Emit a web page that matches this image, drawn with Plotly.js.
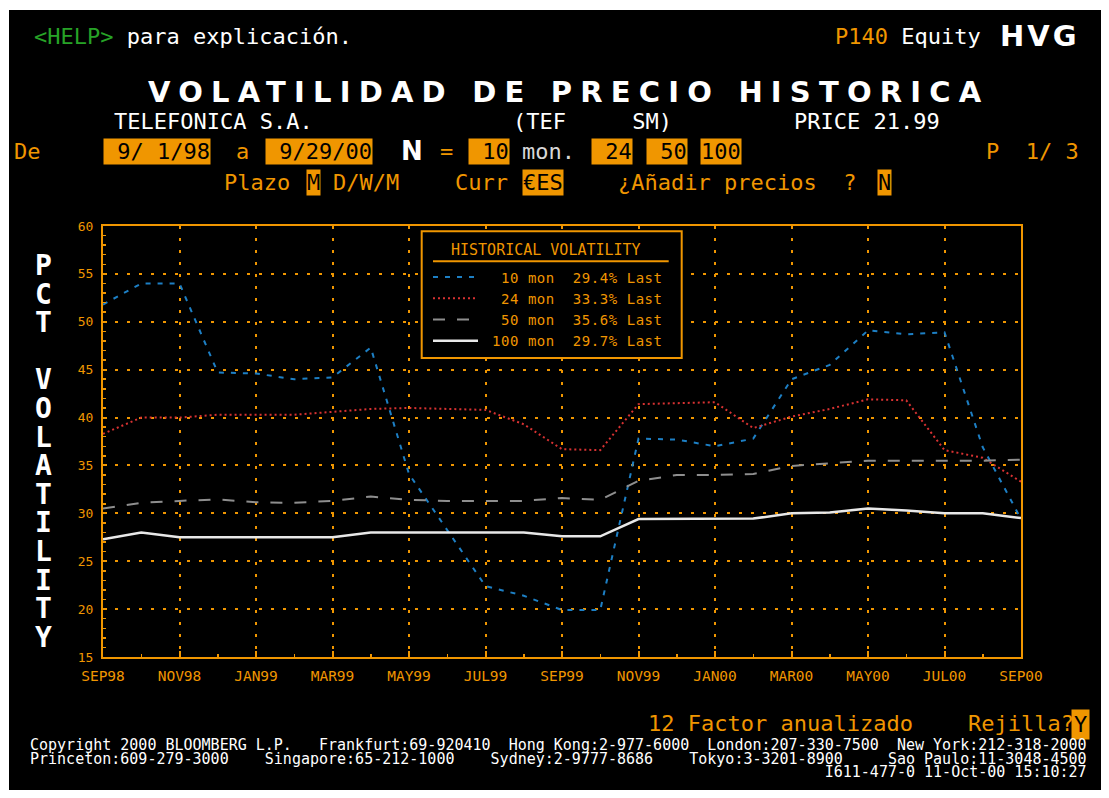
<!DOCTYPE html>
<html>
<head>
<meta charset="utf-8">
<script src="https://cdn.plot.ly/plotly-3.0.1.min.js"></script>
<style>
  html, body { margin:0; padding:0; background:#ffffff; }
  #chart { position:absolute; left:9px; top:10px; width:1092px; height:780px; }
</style>
</head>
<body>
<div id="chart"></div>
<script>
// ---------------- data ----------------
const MONTHS = ['SEP98','OCT98','NOV98','DEC98','JAN99','FEB99','MAR99','APR99','MAY99','JUN99','JUL99','AUG99',
                'SEP99','OCT99','NOV99','DEC99','JAN00','FEB00','MAR00','APR00','MAY00','JUN00','JUL00','AUG00','SEP00'];
const VOL_10  = [51.8, 54.0, 54.0, 44.7, 44.6, 44.0, 44.2, 47.3, 34.1, 28.3, 22.4, 21.4, 19.9, 19.9, 37.8, 37.7, 37.0, 37.8, 44.0, 45.5, 49.1, 48.7, 48.9, 36.9, 29.4];
const VOL_24  = [38.3, 40.0, 40.0, 40.3, 40.3, 40.3, 40.6, 40.9, 41.0, 40.9, 40.8, 39.3, 36.7, 36.6, 41.4, 41.5, 41.6, 38.9, 40.1, 40.9, 41.9, 41.8, 36.6, 35.8, 33.3];
const VOL_50  = [30.5, 31.1, 31.3, 31.45, 31.15, 31.1, 31.3, 31.75, 31.4, 31.3, 31.3, 31.3, 31.6, 31.4, 33.4, 34.0, 34.0, 34.1, 34.95, 35.2, 35.5, 35.5, 35.5, 35.5, 35.6];
const VOL_100 = [27.3, 28.0, 27.5, 27.5, 27.5, 27.5, 27.5, 28.0, 28.0, 28.0, 28.0, 28.0, 27.6, 27.6, 29.4, 29.4, 29.4, 29.45, 30.0, 30.1, 30.5, 30.3, 30.0, 30.0, 29.5];
const SERIES_NAMES = ['10 mon', '24 mon', '50 mon', '100 mon'];
const LAST_VALUES  = ['29.4%', '33.3%', '35.6%', '29.7%'];
const Y_TICKS = [15, 20, 25, 30, 35, 40, 45, 50, 55, 60];
const FOOTER = [
  'Copyright 2000 BLOOMBERG L.P.   Frankfurt:69-920410  Hong Kong:2-977-6000  London:207-330-7500  New York:212-318-2000',
  'Princeton:609-279-3000    Singapore:65-212-1000    Sydney:2-9777-8686    Tokyo:3-3201-8900     Sao Paulo:11-3048-4500',
  'I611-477-0 11-Oct-00 15:10:27'
];

// ---------------- style ----------------
const ORANGE = '#f09600';
const MONO = 'DejaVu Sans Mono, monospace';
const SANS = 'DejaVu Sans, sans-serif';
const NB = s => s.replace(/ /g, '\u00a0');

// plot area in page pixels
const PL = 103, PR = 1021, PT = 226, PB = 657;
const ax = x => (x - PL) / (PR - PL);
const ay = y => (PB - y) / (PB - PT);

const idx = MONTHS.map((_, i) => i);
const tickIdx = idx.filter(i => i % 2 === 0);

const styles = [
  {color:'#1d7fc4', width:2, dash:'5px,7px'},
  {color:'#d83232', width:2, dash:'2px,3px'},
  {color:'#8e8e8e', width:2, dash:'12px,12px'},
  {color:'#e8e8e8', width:2.5, dash:'solid'}
];
const seriesVals = [VOL_10, VOL_24, VOL_50, VOL_100];
const pad = n => n.length < 7 ? '\u00a0'.repeat(7 - n.length) : '';
const traces = seriesVals.map((v, k) => ({
  type:'scatter', mode:'lines', x: idx, y: v,
  name: '<span style="letter-spacing:0.55px">' +
        NB(' ' + pad(SERIES_NAMES[k]) + SERIES_NAMES[k] + '  ' + LAST_VALUES[k] + ' Last') + '</span>',
  line: styles[k], hoverinfo:'skip'
}));

// ---------------- annotations ----------------
const ann = [];
function txt(x, y, text, o) {
  o = o || {};
  ann.push({
    xref:'paper', yref:'paper', x: ax(x), y: ay(y), text: text, showarrow:false,
    xanchor: o.anchor || 'left', yanchor:'middle', align: o.align || 'center',
    borderpad: o.bp !== undefined ? o.bp : 0,
    bgcolor: o.bg || 'rgba(0,0,0,0)',
    font: {family: o.family || MONO, size: o.size || 22, color: o.color || ORANGE}
  });
}
function box(x, y, text, o) {
  o = o || {};
  txt(x, y, NB(text), Object.assign({bg: ORANGE, color:'#000000', bp: 0}, o));
}

// row 1
txt(33, 37, '<span style="color:#27a327">&lt;HELP&gt;</span>' + NB(' para explicación.'), {color:'#ffffff'});
txt(834, 37, 'P140' + NB(' ') + '<span style="color:#ffffff">Equity</span>');
txt(999, 36, '<b><span style="letter-spacing:3px">HVG</span></b>', {family: SANS, size:29, color:'#ffffff'});
// title
txt(568, 92, '<b><span style="letter-spacing:8.2px">VOLATILIDAD DE PRECIO HISTORICA</span></b>', {anchor:'center', family: SANS, size:29, color:'#ffffff'});
// row 3
txt(113, 122, 'TELEFONICA S.A.', {color:'#ffffff'});
txt(512, 122, NB('(TEF     SM)'), {color:'#ffffff'});
txt(793, 122, 'PRICE 21.99', {color:'#ffffff'});
// row 4
txt(13, 151, 'De');
box(102.5, 151, ' 9/ 1/98');
txt(235, 151, 'a');
box(265, 151, ' 9/29/00');
txt(400, 151, '<b>N</b>', {family: SANS, size:26, color:'#ffffff'});
txt(439, 151, '=');
box(468, 151, ' 10');
txt(521, 151, 'mon.', {color:'#d8d8d8'});
box(590.5, 151, ' 24');
box(645.7, 151, ' 50');
box(700, 151, '100');
txt(985, 151, NB('P  1/ 3'));
// row 5
txt(223, 182, 'Plazo');
box(306, 182, 'M');
txt(332, 182, 'D/W/M');
txt(454, 182, 'Curr');
box(522, 182, '€ES');
txt(617, 182, NB('¿Añadir precios  ?'));
box(877, 182, 'N');
// axis label: stacked letters in one text (line pitch from base size 22, glyphs at 28px)
const YLABEL = 'PCT VOLATILITY';
txt(43, 451, '<b>' + YLABEL.split('').map(ch =>
      '<span style="font-size:28px">' + (ch === ' ' ? '\u00a0' : ch) + '</span>').join('<br>') + '</b>',
    {anchor:'center', size:22, color:'#ffffff'});
// legend heading
txt(545.5, 249.7, 'HISTORICAL VOLATILITY', {anchor:'center', size:15});
// bottom
txt(647, 723, '12 Factor anualizado');
txt(967, 723, 'Rejilla?');
box(1071, 724, 'Y', {bp: 2});
txt(1088, 758.5, FOOTER.map(l => '<span style="font-size:15px">' + NB(l) + '</span>').join('<br>'),
    {size:10.4, color:'#ffffff', anchor:'right', align:'right'});

// ---------------- shapes (legend frame) ----------------
const shapes = [
  {type:'rect', xref:'paper', yref:'paper', x0: ax(421.7), x1: ax(681.7), y0: ay(358), y1: ay(231.3),
   fillcolor:'#000000', line:{color: ORANGE, width:2}, layer:'above'},
  {type:'line', xref:'paper', yref:'paper', x0: ax(433), x1: ax(668.7), y0: ay(261.3), y1: ay(261.3),
   line:{color: ORANGE, width:2}, layer:'above'}
];

const layout = {
  width:1092, height:780,
  margin:{l:94, r:80, t:216, b:133, pad:0},
  paper_bgcolor:'#000000', plot_bgcolor:'#000000',
  showlegend:true,
  legend:{
    x: ax(428), y: ay(261.5), xanchor:'left', yanchor:'top',
    bgcolor:'rgba(0,0,0,0)', borderwidth:0,
    font:{family: MONO, size:14, color: ORANGE},
    itemwidth:45, tracegroupgap:0, itemclick:false, itemdoubleclick:false
  },
  xaxis:{
    range:[0, 24], tickmode:'array', tickvals: tickIdx, ticktext: tickIdx.map(i => MONTHS[i]),
    ticks:'inside', ticklen:6, tickwidth:2, tickcolor: ORANGE,
    showline:true, linecolor: ORANGE, linewidth:2, mirror:true,
    showgrid:true, gridcolor: ORANGE, gridwidth:2, griddash:'2.5px,9.5px', zeroline:false,
    tickfont:{family: MONO, size:14.5, color: ORANGE}, ticklabelstandoff:5,
    minor:{dtick:1, ticks:'inside', ticklen:3, tickwidth:1.5, tickcolor: ORANGE, showgrid:false}
  },
  yaxis:{
    range:[15, 60], tickmode:'array', tickvals: Y_TICKS,
    ticks:'inside', ticklen:4, tickwidth:2, tickcolor: ORANGE,
    showline:true, linecolor: ORANGE, linewidth:2, mirror:true,
    showgrid:true, gridcolor: ORANGE, gridwidth:2, griddash:'2.5px,9.5px', zeroline:false,
    tickfont:{family: MONO, size:13, color: ORANGE}, ticklabelstandoff:5,
    minor:{dtick:1, tick0:15, ticks:'inside', ticklen:2.5, tickwidth:1.5, tickcolor: ORANGE, showgrid:false}
  },
  annotations: ann,
  shapes: shapes
};

Plotly.newPlot('chart', traces, layout, {staticPlot:true, displayModeBar:false});
</script>
</body>
</html>
